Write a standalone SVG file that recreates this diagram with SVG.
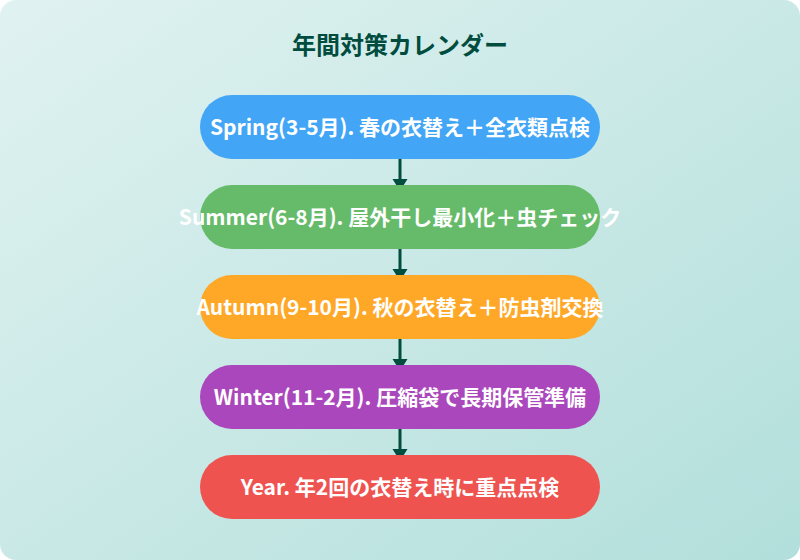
<svg xmlns="http://www.w3.org/2000/svg" width="800" height="560" viewBox="0 0 800 560">
  <defs>
    <linearGradient id="bg" x1="0" y1="0" x2="1" y2="1">
      <stop offset="0" stop-color="#e0f2f1"/>
      <stop offset="1" stop-color="#b2dfdb"/>
    </linearGradient>
  </defs>
  <style>
    .title { font-family: "Noto Sans CJK JP", "Noto Sans", sans-serif; font-weight: 700; font-size: 24px; fill: #004d40; }
    .label { font-family: "Noto Sans CJK JP", "Noto Sans", sans-serif; font-weight: 700; font-size: 21px; fill: #ffffff; }
    .conn line { stroke: #004d40; stroke-width: 3; }
    .conn polygon { fill: #004d40; }
  </style>
  <rect x="0" y="0" width="800" height="560" fill="#ffffff"/>
  <rect x="0" y="0" width="800" height="560" rx="16" ry="16" fill="url(#bg)"/>
  <text class="title" x="400" y="54" text-anchor="middle">年間対策カレンダー</text>
  <g id="connectors" class="conn">
    <line x1="400" y1="159" x2="400" y2="180"/>
    <polygon points="392.5,179 407.5,179 400,191"/>
    <line x1="400" y1="249" x2="400" y2="270"/>
    <polygon points="392.5,269 407.5,269 400,281"/>
    <line x1="400" y1="339" x2="400" y2="360"/>
    <polygon points="392.5,359 407.5,359 400,371"/>
    <line x1="400" y1="429" x2="400" y2="450"/>
    <polygon points="392.5,449 407.5,449 400,461"/>
  </g>
  <g id="spring">
    <rect x="200" y="95" width="400" height="64" rx="32" fill="#42a5f5"/>
    <text class="label" x="400" y="135" text-anchor="middle">Spring(3-5月). 春の衣替え＋全衣類点検</text>
  </g>
  <g id="summer">
    <rect x="200" y="185" width="400" height="64" rx="32" fill="#66bb6a"/>
    <text class="label" x="400" y="225" text-anchor="middle">Summer(6-8月). 屋外干し最小化＋虫チェック</text>
  </g>
  <g id="autumn">
    <rect x="200" y="275" width="400" height="64" rx="32" fill="#ffa726"/>
    <text class="label" x="400" y="315" text-anchor="middle">Autumn(9-10月). 秋の衣替え＋防虫剤交換</text>
  </g>
  <g id="winter">
    <rect x="200" y="365" width="400" height="64" rx="32" fill="#ab47bc"/>
    <text class="label" x="400" y="405" text-anchor="middle">Winter(11-2月). 圧縮袋で長期保管準備</text>
  </g>
  <g id="year">
    <rect x="200" y="455" width="400" height="64" rx="32" fill="#ef5350"/>
    <text class="label" x="400" y="495" text-anchor="middle">Year. 年2回の衣替え時に重点点検</text>
  </g>
</svg>
